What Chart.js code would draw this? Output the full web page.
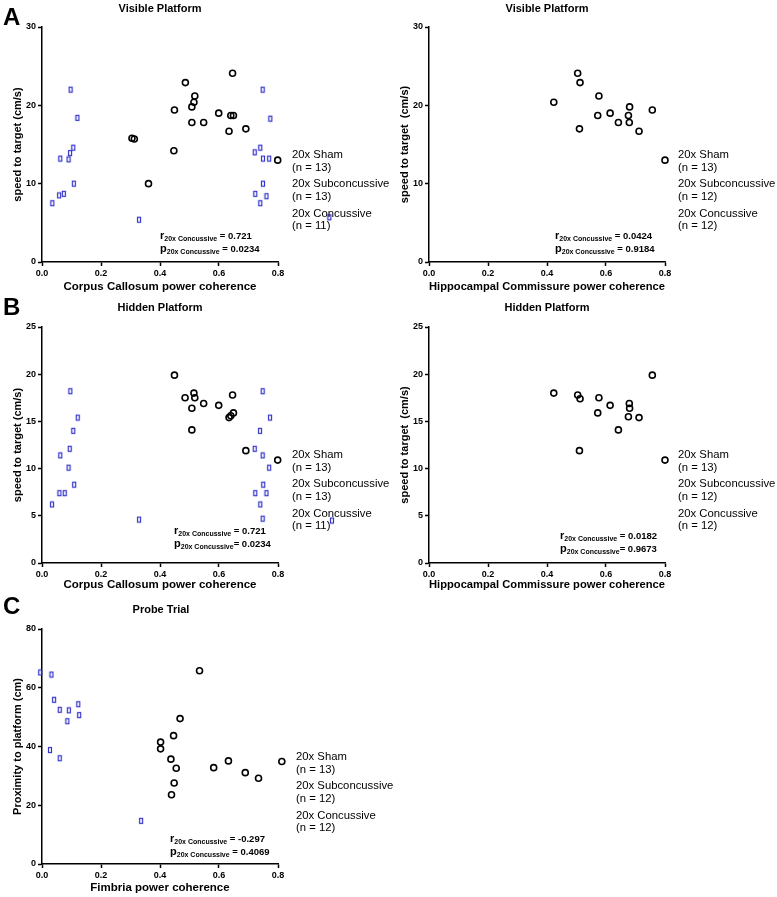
<!DOCTYPE html>
<html>
<head>
<meta charset="utf-8">
<script src="https://cdn.jsdelivr.net/npm/chart.js@4.4.1/dist/chart.umd.min.js"></script>
<style>
  body { margin: 0; background: #fff; width: 777px; height: 897px; position: relative; overflow: hidden;
         font-family: "Liberation Sans", Arial, sans-serif; color: #000; }
  canvas { position: absolute; }
  .t { position: absolute; white-space: nowrap; }
  .letter { font-size: 24px; font-weight: bold; line-height: 24px; }
  .title { font-size: 11px; font-weight: bold; line-height: 14px; width: 240px; text-align: center; }
  .legend { font-size: 11.3px; line-height: 12.7px; }
  .legend div { margin-bottom: 3.9px; }
  .ann { font-size: 9.5px; font-weight: bold; line-height: 12.3px; }
  .ann .r { font-size: 11px; }
  .ann sub { font-size: 7px; vertical-align: -2px; line-height: 0; }
</style>
</head>
<body>
<canvas id="visCc" width="340" height="296" style="left:0;top:0"></canvas>
<canvas id="visHc" width="340" height="296" style="left:387px;top:0"></canvas>
<canvas id="hidCc" width="340" height="296" style="left:0;top:300px"></canvas>
<canvas id="hidHc" width="340" height="296" style="left:387px;top:300px"></canvas>
<canvas id="probe" width="340" height="297" style="left:0;top:600px"></canvas>

<div class="t letter" style="left:3px;top:5px">A</div>
<div class="t letter" style="left:3px;top:295px">B</div>
<div class="t letter" style="left:3px;top:594px">C</div>

<div class="t title" style="left:40px;top:1px">Visible Platform</div>
<div class="t title" style="left:427px;top:1px">Visible Platform</div>
<div class="t title" style="left:40px;top:300px">Hidden Platform</div>
<div class="t title" style="left:427px;top:300px">Hidden Platform</div>
<div class="t title" style="left:41px;top:602px">Probe Trial</div>

<div class="t legend" style="left:292px;top:148px">
  <div>20x Sham<br>(n = 13)</div><div>20x Subconcussive<br>(n = 13)</div><div>20x Concussive<br>(n = 11)</div>
</div>
<div class="t legend" style="left:678px;top:148px">
  <div>20x Sham<br>(n = 13)</div><div>20x Subconcussive<br>(n = 12)</div><div>20x Concussive<br>(n = 12)</div>
</div>
<div class="t legend" style="left:292px;top:448px">
  <div>20x Sham<br>(n = 13)</div><div>20x Subconcussive<br>(n = 13)</div><div>20x Concussive<br>(n = 11)</div>
</div>
<div class="t legend" style="left:678px;top:448px">
  <div>20x Sham<br>(n = 13)</div><div>20x Subconcussive<br>(n = 12)</div><div>20x Concussive<br>(n = 12)</div>
</div>
<div class="t legend" style="left:296px;top:750px">
  <div>20x Sham<br>(n = 13)</div><div>20x Subconcussive<br>(n = 12)</div><div>20x Concussive<br>(n = 12)</div>
</div>

<div class="t ann" style="left:160px;top:229px">
  <div><span class="r">r</span><sub>20x Concussive</sub> = 0.721</div>
  <div><span class="r">p</span><sub>20x Concussive</sub> = 0.0234</div>
</div>
<div class="t ann" style="left:555px;top:229px">
  <div><span class="r">r</span><sub>20x Concussive</sub> = 0.0424</div>
  <div><span class="r">p</span><sub>20x Concussive</sub> = 0.9184</div>
</div>
<div class="t ann" style="left:174px;top:524px">
  <div><span class="r">r</span><sub>20x Concussive</sub> = 0.721</div>
  <div><span class="r">p</span><sub>20x Concussive</sub>= 0.0234</div>
</div>
<div class="t ann" style="left:560px;top:529px">
  <div><span class="r">r</span><sub>20x Concussive</sub> = 0.0182</div>
  <div><span class="r">p</span><sub>20x Concussive</sub>= 0.9673</div>
</div>
<div class="t ann" style="left:170px;top:832px">
  <div><span class="r">r</span><sub>20x Concussive</sub> = -0.297</div>
  <div><span class="r">p</span><sub>20x Concussive</sub> = 0.4069</div>
</div>

<script>
// visible platform vs corpus callosum
const visCcShamX = [0.646, 0.486, 0.518, 0.515, 0.508, 0.449, 0.599, 0.640, 0.649, 0.508, 0.548, 0.691, 0.634, 0.305, 0.313, 0.447, 0.799, 0.361];
const visCcShamY = [24.1, 22.9, 21.2, 20.4, 19.8, 19.4, 19.0, 18.7, 18.7, 17.8, 17.8, 17.0, 16.7, 15.8, 15.7, 14.2, 13.0, 10.0];
const visCcConcX = [0.097, 0.120, 0.106, 0.095, 0.062, 0.090, 0.108, 0.074, 0.058, 0.035, 0.329, 0.748, 0.774, 0.740, 0.721, 0.749, 0.770, 0.749, 0.723, 0.761, 0.740, 0.974];
const visCcConcY = [22.0, 18.4, 14.6, 13.9, 13.2, 13.1, 10.0, 8.7, 8.5, 7.5, 5.4, 22.0, 18.3, 14.6, 14.0, 13.2, 13.2, 10.0, 8.7, 8.4, 7.5, 5.7];

// visible platform vs hippocampal commissure
const visHcShamX = [0.504, 0.512, 0.576, 0.423, 0.680, 0.757, 0.614, 0.572, 0.676, 0.642, 0.679, 0.510, 0.712, 0.800];
const visHcShamY = [24.1, 22.9, 21.2, 20.4, 19.8, 19.4, 19.0, 18.7, 18.7, 17.8, 17.8, 17.0, 16.7, 13.0];

// hidden platform vs corpus callosum
const hidCcShamX = [0.449, 0.515, 0.518, 0.485, 0.646, 0.548, 0.508, 0.599, 0.649, 0.640, 0.634, 0.508, 0.691, 0.799];
const hidCcShamY = [19.9, 18.0, 17.5, 17.5, 17.8, 16.9, 16.4, 16.7, 15.9, 15.6, 15.4, 14.1, 11.9, 10.9];
const hidCcConcX = [0.096, 0.121, 0.106, 0.094, 0.062, 0.090, 0.109, 0.059, 0.077, 0.034, 0.329, 0.748, 0.773, 0.739, 0.721, 0.748, 0.770, 0.750, 0.723, 0.761, 0.740, 0.748, 0.983];
const hidCcConcY = [18.2, 15.4, 14.0, 12.1, 11.4, 10.1, 8.3, 7.4, 7.4, 6.2, 4.6, 18.2, 15.4, 14.0, 12.1, 11.4, 10.1, 8.3, 7.4, 7.4, 6.2, 4.7, 4.5];

// hidden platform vs hippocampal commissure
const hidHcShamX = [0.757, 0.423, 0.504, 0.512, 0.576, 0.614, 0.679, 0.680, 0.572, 0.676, 0.712, 0.642, 0.510, 0.800];
const hidHcShamY = [19.9, 18.0, 17.8, 17.4, 17.5, 16.7, 16.9, 16.4, 15.9, 15.5, 15.4, 14.1, 11.9, 10.9];

// probe trial vs fimbria
const probeShamX = [0.534, 0.468, 0.446, 0.402, 0.402, 0.437, 0.455, 0.632, 0.582, 0.813, 0.689, 0.734, 0.448, 0.439];
const probeShamY = [65.8, 49.5, 43.7, 41.5, 39.2, 35.7, 32.6, 35.1, 32.8, 34.9, 31.1, 29.2, 27.6, 23.6];
const probeConcX = [-0.006, 0.032, 0.041, 0.060, 0.091, 0.123, 0.126, 0.086, 0.027, 0.060, 0.336];
const probeConcY = [65.2, 64.5, 55.9, 52.5, 52.3, 54.4, 50.7, 48.6, 38.8, 36.0, 14.7];

const fontFamily = '"Liberation Sans", Arial, sans-serif';

function toPoints(xs, ys) {
    return xs.map((x, i) => ({x: x, y: ys[i]}));
}

// small hollow blue box used as marker
function boxMarker() {
    const c = document.createElement('canvas');
    c.width = 6;
    c.height = 8;
    const g = c.getContext('2d');
    g.strokeStyle = '#3434cc';
    g.lineWidth = 1.2;
    g.strokeRect(1.5, 1.5, 3, 5);
    return c;
}
const box = boxMarker();

function circleSet(xs, ys) {
    return {
        data: toPoints(xs, ys),
        pointStyle: 'circle',
        pointRadius: 3,
        pointBorderWidth: 1.6,
        pointBorderColor: '#000',
        pointBackgroundColor: 'rgba(0,0,0,0)',
        clip: false
    };
}

function boxSet(xs, ys) {
    return {
        data: toPoints(xs, ys),
        pointStyle: box,
        pointRadius: 3,
        clip: false
    };
}

// chart.js skips points outside the chart area, the stray ones sit next to the legend
const strayPoints = {
    id: 'strayPoints',
    afterDatasetsDraw(chart) {
        const a = chart.chartArea;
        const big = {left: -10000, top: -10000, right: 10000, bottom: 10000};
        chart.data.datasets.forEach((ds, i) => {
            chart.getDatasetMeta(i).data.forEach(el => {
                if (el.x > a.right + 5 || el.x < a.left - 5 || el.y < a.top - 5 || el.y > a.bottom + 5) {
                    el.draw(chart.ctx, big);
                }
            });
        });
    }
};

function makeChart(id, p) {
    const tickFont = {family: fontFamily, size: 9, weight: 'bold'};
    const titleFont = {family: fontFamily, size: 11, weight: 'bold'};
    const gridOpts = {display: true, drawOnChartArea: false, drawTicks: true, tickLength: 4, tickWidth: 1.5, tickColor: '#000'};
    return new Chart(document.getElementById(id), {
        type: 'scatter',
        data: {datasets: p.datasets},
        plugins: [strayPoints],
        options: {
            responsive: false,
            animation: false,
            devicePixelRatio: 1,
            layout: {padding: {top: p.padTop, right: p.padRight, bottom: 0, left: 0}},
            plugins: {legend: {display: false}, tooltip: {enabled: false}},
            scales: {
                x: {
                    type: 'linear', min: 0, max: 0.8,
                    afterFit: s => { s.height = p.axisH; },
                    ticks: {stepSize: 0.2, callback: v => v.toFixed(1), font: tickFont, color: '#000', padding: 2, maxRotation: 0},
                    grid: gridOpts,
                    border: {display: true, color: '#000', width: 1.5},
                    title: {display: true, text: p.xTitle, color: '#000',
                            font: {family: fontFamily, size: 11.5, weight: 'bold'},
                            padding: {top: 0, bottom: p.xTitlePad}}
                },
                y: {
                    type: 'linear', min: 0, max: p.yMax,
                    afterFit: s => { s.width = 42; },
                    ticks: {stepSize: p.yStep, font: tickFont, color: '#000', padding: 2},
                    grid: gridOpts,
                    border: {display: true, color: '#000', width: 1.5},
                    title: {display: true, text: p.yTitle, color: '#000', font: titleFont,
                            padding: {top: 11, bottom: 0}}
                }
            }
        }
    });
}

makeChart('visCc', {
    padTop: 27, padRight: 62, axisH: 34, xTitlePad: 2, yMax: 30, yStep: 10,
    xTitle: 'Corpus Callosum power coherence', yTitle: 'speed to target (cm/s)',
    datasets: [circleSet(visCcShamX, visCcShamY), boxSet(visCcConcX, visCcConcY)]
});
makeChart('visHc', {
    padTop: 27, padRight: 62, axisH: 34, xTitlePad: 2, yMax: 30, yStep: 10,
    xTitle: 'Hippocampal Commissure power coherence', yTitle: 'speed to target  (cm/s)',
    datasets: [circleSet(visHcShamX, visHcShamY)]
});
makeChart('hidCc', {
    padTop: 27, padRight: 62, axisH: 33, xTitlePad: 4, yMax: 25, yStep: 5,
    xTitle: 'Corpus Callosum power coherence', yTitle: 'speed to target (cm/s)',
    datasets: [circleSet(hidCcShamX, hidCcShamY), boxSet(hidCcConcX, hidCcConcY)]
});
makeChart('hidHc', {
    padTop: 27, padRight: 62, axisH: 33, xTitlePad: 4, yMax: 25, yStep: 5,
    xTitle: 'Hippocampal Commissure power coherence', yTitle: 'speed to target  (cm/s)',
    datasets: [circleSet(hidHcShamX, hidHcShamY)]
});
makeChart('probe', {
    padTop: 29, padRight: 62, axisH: 33, xTitlePad: 2, yMax: 80, yStep: 20,
    xTitle: 'Fimbria power coherence', yTitle: 'Proximity to platform (cm)',
    datasets: [circleSet(probeShamX, probeShamY), boxSet(probeConcX, probeConcY)]
});
</script>
</body>
</html>
